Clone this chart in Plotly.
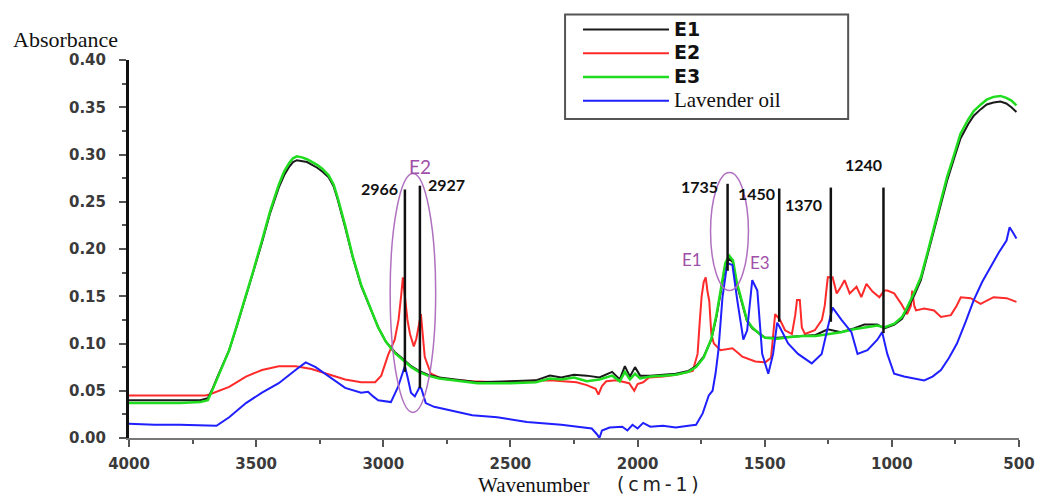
import plotly.graph_objects as go

# ---------------- data ----------------
wn_e = [4000, 3900, 3800, 3720, 3690, 3670, 3650, 3630, 3606, 3575, 3540, 3510, 3477, 3445,
        3411, 3390, 3370, 3355, 3340, 3320, 3300, 3280, 3260, 3240, 3215, 3195, 3180, 3150,
        3120, 3087, 3050, 3020, 2990, 2955, 2920, 2890, 2860, 2825, 2780,
        2700, 2630, 2500, 2400, 2345, 2300, 2250, 2200, 2150, 2100, 2070, 2050, 2030, 2010,
        1990, 1950, 1900, 1850, 1800, 1770, 1740, 1710, 1690, 1670, 1655, 1640, 1625, 1610,
        1588, 1570, 1549, 1520, 1498, 1450, 1400, 1350, 1300, 1252, 1200, 1150, 1108, 1057,
        1030, 990, 960, 940, 910, 886, 860, 834, 810, 783, 755, 730, 700, 678, 650, 627, 600,
        573, 550, 530, 510]
e3 = [0.037, 0.037, 0.037, 0.038, 0.040, 0.052, 0.065, 0.078, 0.093, 0.120, 0.150, 0.178,
      0.209, 0.240, 0.268, 0.282, 0.291, 0.296, 0.298, 0.297, 0.295, 0.292, 0.289, 0.285,
      0.278, 0.268, 0.255, 0.225, 0.192, 0.162, 0.136, 0.117, 0.102, 0.090, 0.082,
      0.075, 0.070, 0.066, 0.063, 0.060, 0.058, 0.058, 0.059, 0.063, 0.062, 0.064, 0.060,
      0.062, 0.066, 0.060, 0.070, 0.062, 0.068, 0.063, 0.065, 0.066, 0.067, 0.070, 0.075,
      0.085, 0.105, 0.130, 0.160, 0.185, 0.193, 0.188, 0.165, 0.142, 0.125, 0.117, 0.110,
      0.106, 0.105, 0.107, 0.108, 0.108, 0.110, 0.112, 0.115, 0.117, 0.119, 0.117, 0.121,
      0.128, 0.138, 0.155, 0.170, 0.196, 0.223, 0.250, 0.276, 0.300, 0.322, 0.337, 0.346,
      0.353, 0.358, 0.361, 0.362, 0.360, 0.357, 0.352]
e1 = [0.040, 0.040, 0.040, 0.040, 0.042, 0.053, 0.066, 0.079, 0.093, 0.119, 0.149, 0.177,
      0.207, 0.238, 0.265, 0.278, 0.287, 0.292, 0.294, 0.293, 0.292, 0.289, 0.286, 0.282,
      0.276, 0.266, 0.253, 0.223, 0.191, 0.161, 0.136, 0.117, 0.102, 0.091, 0.083,
      0.076, 0.071, 0.067, 0.064, 0.061, 0.059, 0.060, 0.061, 0.066, 0.064, 0.067, 0.066,
      0.064, 0.070, 0.062, 0.076, 0.065, 0.075, 0.066, 0.066, 0.067, 0.068, 0.071, 0.076,
      0.086, 0.104, 0.128, 0.158, 0.182, 0.190, 0.186, 0.163, 0.141, 0.124, 0.116, 0.110,
      0.106, 0.106, 0.107, 0.108, 0.109, 0.115, 0.112, 0.116, 0.120, 0.120, 0.116, 0.120,
      0.126, 0.136, 0.152, 0.167, 0.193, 0.220, 0.246, 0.272, 0.296, 0.317, 0.332, 0.341,
      0.348, 0.353, 0.355, 0.356, 0.354, 0.350, 0.345]

wn_e2 = [4000, 3900, 3800, 3700, 3684, 3606, 3540, 3477, 3411, 3345, 3282, 3215, 3150, 3087,
         3032, 3008, 2981, 2955, 2940, 2930, 2923, 2915, 2905, 2895, 2880, 2870, 2862, 2852,
         2845, 2837, 2813, 2780, 2747, 2650, 2552, 2450, 2345, 2240, 2200, 2165, 2154, 2140,
         2123, 2084, 2033, 2013, 2000, 1978, 1955, 1900, 1850, 1783, 1764, 1755, 1748, 1740,
         1732, 1725, 1718, 1710, 1700, 1674, 1627, 1600, 1588, 1537, 1498, 1475, 1465, 1459,
         1440, 1420, 1393, 1380, 1373, 1362, 1354, 1342, 1303, 1275, 1264, 1252, 1233, 1217,
         1200, 1186, 1166, 1139, 1120, 1100, 1076, 1049, 1030, 1018, 991, 963, 940, 925, 920,
         912, 905, 873, 834, 807, 768, 745, 729, 690, 651, 620, 600, 549, 510]
e2 = [0.045, 0.045, 0.045, 0.045, 0.046, 0.054, 0.065, 0.072, 0.076, 0.076, 0.073, 0.067,
      0.062, 0.059, 0.059, 0.066, 0.088, 0.104, 0.125, 0.150, 0.170, 0.150, 0.125, 0.110,
      0.097, 0.105, 0.118, 0.131, 0.110, 0.086, 0.068, 0.064, 0.062, 0.060, 0.059, 0.060,
      0.061, 0.059, 0.056, 0.052, 0.046, 0.055, 0.060, 0.061, 0.058, 0.050, 0.057, 0.059,
      0.064, 0.065, 0.067, 0.071, 0.089, 0.125, 0.150, 0.165, 0.170, 0.155, 0.145, 0.110,
      0.100, 0.093, 0.095, 0.089, 0.086, 0.081, 0.080, 0.085, 0.120, 0.131, 0.125, 0.114,
      0.110, 0.130, 0.146, 0.146, 0.117, 0.110, 0.114, 0.125, 0.140, 0.170, 0.170, 0.153,
      0.160, 0.167, 0.153, 0.160, 0.149, 0.163, 0.155, 0.149, 0.156, 0.156, 0.153, 0.142,
      0.131, 0.140, 0.156, 0.140, 0.135, 0.137, 0.135, 0.128, 0.130, 0.140, 0.149, 0.148,
      0.142, 0.146, 0.149, 0.148, 0.144]

wn_lav = [4000, 3900, 3800, 3700, 3656, 3606, 3540, 3477, 3411, 3345, 3305, 3266, 3215, 3150,
          3087, 3060, 3040, 3020, 2970, 2942, 2925, 2915, 2905, 2891, 2876, 2857, 2850, 2833,
          2800, 2747, 2650, 2552, 2435, 2300, 2240, 2180, 2160, 2150, 2140, 2110, 2060, 2040,
          2020, 2000, 1978, 1950, 1900, 1850, 1800, 1770, 1744, 1720, 1705, 1693, 1682, 1666,
          1647, 1627, 1608, 1584, 1569, 1549, 1529, 1510, 1486, 1467, 1451, 1440, 1408, 1369,
          1315, 1276, 1252, 1233, 1198, 1159, 1135, 1096, 1057, 1038, 1018, 991, 952, 910, 873,
          840, 807, 775, 744, 710, 678, 645, 612, 580, 549, 537, 525, 510]
lav = [0.015, 0.014, 0.014, 0.013, 0.013, 0.022, 0.037, 0.048, 0.058, 0.072, 0.080, 0.075,
       0.065, 0.053, 0.048, 0.049, 0.044, 0.040, 0.038, 0.054, 0.068, 0.076, 0.065, 0.048,
       0.044, 0.054, 0.052, 0.037, 0.033, 0.030, 0.024, 0.022, 0.017, 0.014, 0.012, 0.010,
       0.004, 0.000, 0.008, 0.011, 0.012, 0.008, 0.014, 0.010, 0.016, 0.012, 0.013, 0.011,
       0.013, 0.014, 0.026, 0.045, 0.050, 0.069, 0.093, 0.149, 0.185, 0.183, 0.146, 0.104,
       0.114, 0.167, 0.156, 0.089, 0.068, 0.089, 0.122, 0.117, 0.100, 0.089, 0.079, 0.089,
       0.117, 0.138, 0.125, 0.112, 0.089, 0.093, 0.104, 0.112, 0.089, 0.068, 0.065, 0.063,
       0.061, 0.065, 0.072, 0.085, 0.100, 0.123, 0.146, 0.165, 0.181, 0.196, 0.209, 0.223,
       0.218, 0.211]

x_ticks = [4000, 3500, 3000, 2500, 2000, 1500, 1000, 500]
y_ticks = [0.00, 0.05, 0.10, 0.15, 0.20, 0.25, 0.30, 0.35, 0.40]
y_tick_text = ["0.00", "0.05", "0.10", "0.15", "0.20", "0.25", "0.30", "0.35", "0.40"]

# peak markers
peak_labels = ["2966", "2927", "1735", "1450", "1370", "1240"]
peak_line_x = [2915, 2856, 1646, 1443, 1240, 1033]
peak_line_top = [0.263, 0.267, 0.269, 0.264, 0.265, 0.265]
peak_line_bottom = [0.070, 0.053, 0.177, 0.123, 0.123, 0.111]
peak_label_x = [3014, 2751, 1757, 1531, 1348, 1111]
peak_label_y = [0.264, 0.268, 0.266, 0.259, 0.247, 0.289]

sample_labels = ["E2", "E1", "E3"]
sample_label_x = [2854, 1787, 1517]
sample_label_y = [0.2875, 0.189, 0.186]

# ---------------- figure ----------------
fig = go.Figure()
SANS = "DejaVu Sans"
SERIF = "Liberation Serif"
ESTYLE = f"font-family:{SANS};font-weight:bold;font-size:19px"

fig.add_trace(go.Scatter(x=wn_e2, y=e2, mode="lines", name=f"<span style='{ESTYLE}'>E2</span>",
                         line=dict(color="#ff2a2a", width=2), legendrank=2))
fig.add_trace(go.Scatter(x=wn_e, y=e1, mode="lines", name=f"<span style='{ESTYLE}'>E1</span>",
                         line=dict(color="#1a1a1a", width=2), legendrank=1))
fig.add_trace(go.Scatter(x=wn_e, y=e3, mode="lines", name=f"<span style='{ESTYLE}'>E3</span>",
                         line=dict(color="#1fdc1f", width=2.5), legendrank=3))
fig.add_trace(go.Scatter(x=wn_lav, y=lav, mode="lines", name="<span style='font-size:21px'>Lavender oil</span>",
                         line=dict(color="#1f1fff", width=2), legendrank=4))

shapes = []
for lx, lt, lb in zip(peak_line_x, peak_line_top, peak_line_bottom):
    shapes.append(dict(type="line", xref="x", yref="y", x0=lx, x1=lx, y0=lb, y1=lt,
                       line=dict(color="#111111", width=2.5)))
shapes.append(dict(type="circle", xref="x", yref="y", x0=2973, x1=2794, y0=0.027, y1=0.280,
                   line=dict(color="#b070c0", width=1.5)))
shapes.append(dict(type="circle", xref="x", yref="y", x0=1713, x1=1564, y0=0.156, y1=0.281,
                   line=dict(color="#b070c0", width=1.5)))
shapes.append(dict(type="rect", xref="paper", yref="paper",
                   x0=(568 - 129) / 896, x1=(853 - 129) / 896,
                   y0=(438.3 - 118) / 379.6, y1=(438.3 - 13) / 379.6,
                   line=dict(color="#555555", width=2)))

annotations = []
for t, ax, ay in zip(peak_labels, peak_label_x, peak_label_y):
    annotations.append(dict(x=ax, y=ay, xref="x", yref="y", text=f"<b>{t}</b>", showarrow=False,
                            xanchor="center", yanchor="middle",
                            font=dict(family="Lato", size=16, color="#111111")))
for t, ax, ay in zip(sample_labels, sample_label_x, sample_label_y):
    annotations.append(dict(x=ax, y=ay, xref="x", yref="y", text=t, showarrow=False,
                            xanchor="center", yanchor="middle",
                            font=dict(family="Lato", size=19 if t == "E2" else 17, color="#a050a8")))
annotations.append(dict(x=(10 - 129) / 896, y=(438.3 - 38) / 379.6, xref="paper", yref="paper",
                        text="Absorbance", showarrow=False, xanchor="left", yanchor="middle",
                        font=dict(family=SERIF, size=22, color="#111111")))
annotations.append(dict(x=(536 - 129) / 896, y=(438.3 - 485) / 379.6, xref="paper", yref="paper",
                        text="Wavenumber", showarrow=False, xanchor="center", yanchor="middle",
                        font=dict(family=SERIF, size=21, color="#111111")))
annotations.append(dict(x=(662 - 129) / 896, y=(438.3 - 484) / 379.6, xref="paper", yref="paper",
                        text="(\u2009c\u2009m\u2009-\u20091\u2009)", showarrow=False, xanchor="center", yanchor="middle",
                        font=dict(family=SANS, size=19, color="#222222")))

fig.update_layout(
    width=1047, height=499,
    margin=dict(l=129, r=22, t=59, b=61),
    paper_bgcolor="white", plot_bgcolor="white",
    shapes=shapes, annotations=annotations,
    showlegend=True,
    legend=dict(x=(581 - 129) / 896, y=(438.3 - 11) / 379.6, xanchor="left", yanchor="top",
                bgcolor="rgba(0,0,0,0)", borderwidth=0, itemwidth=86,
                font=dict(family=SERIF, size=16, color="#111111"), traceorder="normal"),
    xaxis=dict(range=[4000, 500], tickvals=x_ticks, ticktext=[str(v) for v in x_ticks],
               showgrid=False, zeroline=False, showline=True, linecolor="#777777", linewidth=2,
               ticks="outside", ticklen=7, tickwidth=2, tickcolor="#555555",
               minor=dict(dtick=250, ticks="outside", ticklen=4, tickwidth=2, tickcolor="#555555"),
               tickfont=dict(family=SANS, size=15, color="#3a3a3a", weight="bold"),
               ticklabelstandoff=4),
    yaxis=dict(range=[0, 0.40], tickvals=y_ticks, ticktext=y_tick_text,
               showgrid=False, zeroline=False, showline=True, linecolor="#111111", linewidth=3,
               ticks="outside", ticklen=7, tickwidth=2, tickcolor="#555555",
               minor=dict(dtick=0.025, ticks="outside", ticklen=4, tickwidth=2, tickcolor="#555555"),
               tickfont=dict(family=SANS, size=15, color="#3a3a3a", weight="bold"),
               ticklabelstandoff=10),
)

fig.write_html("out.html")
